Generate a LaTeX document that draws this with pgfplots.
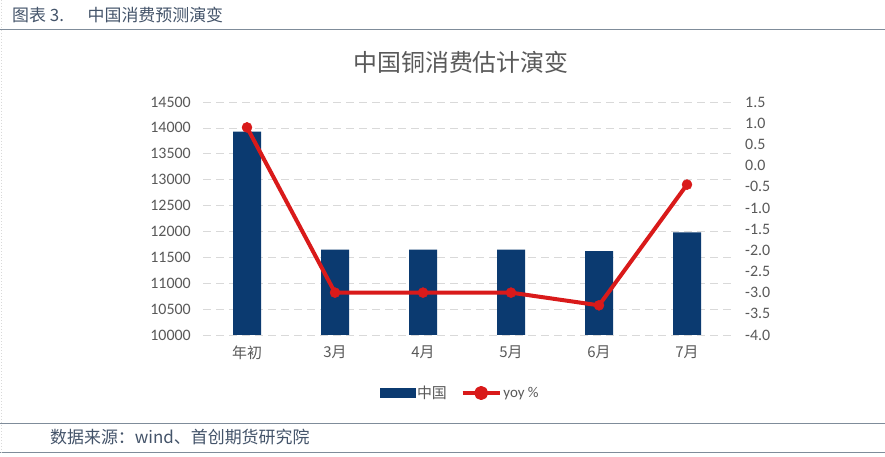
\documentclass[border=0pt]{standalone}
\usepackage{pgfplots}
\pgfplotsset{compat=1.18}
\usepackage{pgfplotstable}
\usepackage{fontspec}
\setmainfont{Carlito}
\newfontfamily\cjk{Noto Sans CJK SC}
\definecolor{navy}{HTML}{0B3A70}
\definecolor{lred}{HTML}{D91A1A}
\definecolor{tgrey}{HTML}{595959}
\definecolor{gridc}{HTML}{D9D9D9}
\definecolor{hdr}{HTML}{44546A}
\definecolor{rule}{HTML}{7F8C9A}

\pgfplotstableread{
x v
0 13930
1 11650
2 11650
3 11650
4 11620
5 11980
}\china
\pgfplotstableread{
x v
0 0.9
1 -3.0
2 -3.0
3 -3.0
4 -3.3
5 -0.45
}\yoy

\begin{document}
\begin{tikzpicture}[x=1bp,y=1bp]
\path[use as bounding box, fill=white] (0,0) rectangle (885,457);
% frame lines
\draw[rule, line width=1bp] (0,427) -- (885,427);
\draw[rule, line width=1bp] (0,33) -- (885,33);
\draw[rule, line width=1bp] (0,4) -- (885,4);
\draw[gridc, dotted, line width=1bp] (1.5,457) -- (1.5,4);
\node[anchor=west, text=hdr, font=\cjk\fontsize{17}{17}\selectfont, inner sep=0pt] at (12,442) {图表 3.\hspace{1.4em}中国消费预测演变};
\node[anchor=west, text=hdr, font=\cjk\fontsize{17}{17}\selectfont, inner sep=0pt] at (50,20) {数据来源：wind、首创期货研究院};
\node[text=tgrey, font=\cjk\fontsize{24}{24}\selectfont] at (461,395) {中国铜消费估计演变};

\begin{axis}[
  at={(203bp,122bp)}, anchor=south west, scale only axis,
  width=528bp, height=233bp,
  xmin=-0.5, xmax=5.5, ymin=10000, ymax=14500,
  ytick={10000,10500,11000,11500,12000,12500,13000,13500,14000,14500},
  scaled y ticks=false,
  xtick={0,1,2,3,4,5}, xticklabels={年初,3月,4月,5月,6月,7月},
  x tick label style={font=\cjk\fontsize{15}{15}\selectfont, text=tgrey, inner sep=0pt, yshift=-11bp},
  yticklabel style={font=\fontsize{16}{16}\selectfont, text=tgrey, inner sep=0pt, xshift=-12bp},
  yticklabel pos=left, xticklabel pos=bottom,
  axis line style={draw=none}, major tick length=0pt,
  ymajorgrids, grid style={gridc, dash pattern=on 8bp off 5bp, line width=0.75bp},
  /pgf/number format/1000 sep={}, /pgf/number format/assume math mode=true,
  ybar, bar width=28bp,
]
\addplot[fill=navy, draw=none] table[x=x,y=v]{\china};
\draw[gridc, line width=0.75bp] (rel axis cs:0,0) -- (rel axis cs:1,0);
\end{axis}

\begin{axis}[
  at={(203bp,122bp)}, anchor=south west, scale only axis,
  width=528bp, height=233bp,
  xmin=-0.5, xmax=5.5, ymin=-4, ymax=1.5,
  ytick={-4,-3.5,-3,-2.5,-2,-1.5,-1,-0.5,0,0.5,1,1.5},
  scaled y ticks=false,
  xtick=\empty,
  yticklabel pos=right,
  yticklabel style={font=\fontsize{16}{16}\selectfont, text=tgrey, inner sep=0pt, anchor=west, xshift=14bp,
    /pgf/number format/.cd, fixed, fixed zerofill, precision=1},
  /pgf/number format/assume math mode=true,
  axis line style={draw=none}, major tick length=0pt,
  legend style={at={(0.487,-0.249)}, anchor=center, draw=none, fill=none,
    font=\fontsize{15}{15}\selectfont, text=tgrey, legend columns=2,
    /tikz/every even column/.append style={column sep=12bp}},
  legend cell align=left,
]
\addlegendimage{legend image code/.code={\fill[navy] (0bp,-4.5bp) rectangle (35bp,4.5bp);}}
\addlegendentry{\cjk 中国}
\addplot[lred, line width=4bp, line join=round, mark=*, mark size=5bp, mark options={fill=lred, line width=0.5bp},
  legend image code/.code={\draw[lred, line width=3.5bp] (0bp,0bp) -- (37bp,0bp); \fill[lred] (18.5bp,0bp) circle (5bp);}]
  table[x=x,y=v]{\yoy};
\addlegendentry{yoy \%}
\end{axis}
\end{tikzpicture}
\end{document}
